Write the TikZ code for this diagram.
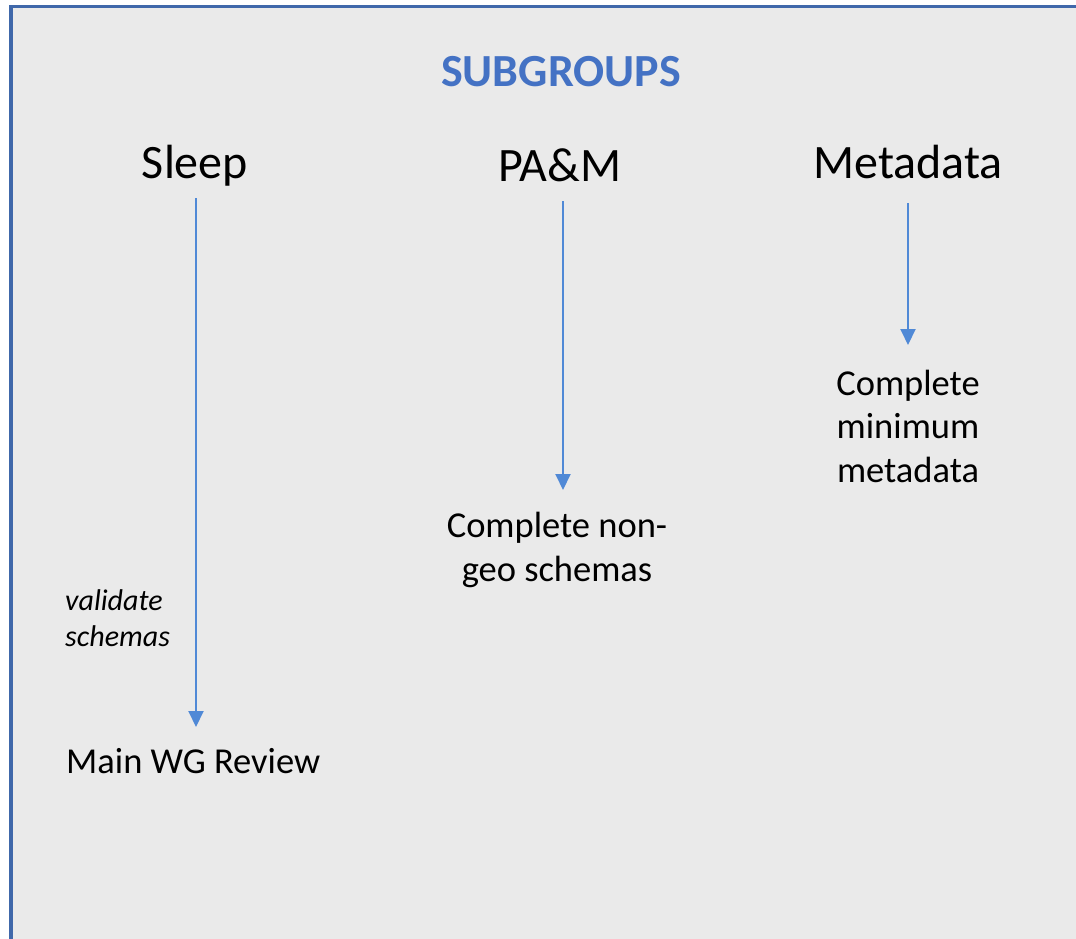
\documentclass[tikz,border=0pt]{standalone}
\usepackage{fontspec}
\setmainfont{Carlito}
\usetikzlibrary{arrows.meta}
\definecolor{bgray}{HTML}{EAEAEA}
\definecolor{frameblue}{HTML}{4068AA}
\definecolor{titleblue}{HTML}{4472C4}
\definecolor{arrowblue}{HTML}{5089D6}
\begin{document}
\begin{tikzpicture}[x=1pt,y=-1pt,
  lbl/.style={inner sep=0pt,anchor=base,text=black},
  head/.style={lbl,font=\fontsize{48}{58}\selectfont},
  body/.style={lbl,font=\fontsize{36.5}{43.5}\selectfont,align=center},
  flow/.style={draw=arrowblue,line width=2pt,-{Triangle[width=15pt,length=16pt]}}]
\useasboundingbox (0,0) rectangle (1076,939);
\fill[white] (0,0) rectangle (1076,939);
\fill[bgray] (11,6) rectangle (1076,939);
\draw[frameblue,line width=3.2pt] (11,939) -- (11,6.3) -- (1076,6.3);
\node[lbl,font=\fontsize{46}{55}\selectfont\bfseries,text=titleblue] (title) at (561,87) {SUBGROUPS};
\node[head] (sleep) at (195,178) {Sleep};
\node[head] (pam) at (560,182) {PA\&M};
\node[head] (meta) at (908,178) {Metadata};
\node[body] (noneo) at (557,581) {Complete non-\\geo schemas};
\node[body] (minmeta) at (908,482) {Complete\\minimum\\metadata};
\node[lbl,font=\fontsize{36.5}{43.5}\selectfont,anchor=base west] (review) at (66,773) {Main WG Review};
\node[lbl,font=\fontsize{30}{36}\selectfont\itshape,align=left,anchor=base west] (validate) at (65,646) {validate\\schemas};
\coordinate (s1) at (196,198);
\coordinate (s2) at (196,727);
\coordinate (p1) at (563,201);
\coordinate (p2) at (563,490);
\coordinate (m1) at (908,203);
\coordinate (m2) at (908,345);
\draw[flow] (s1) -- (s2);
\draw[flow] (p1) -- (p2);
\draw[flow] (m1) -- (m2);
\end{tikzpicture}
\end{document}
